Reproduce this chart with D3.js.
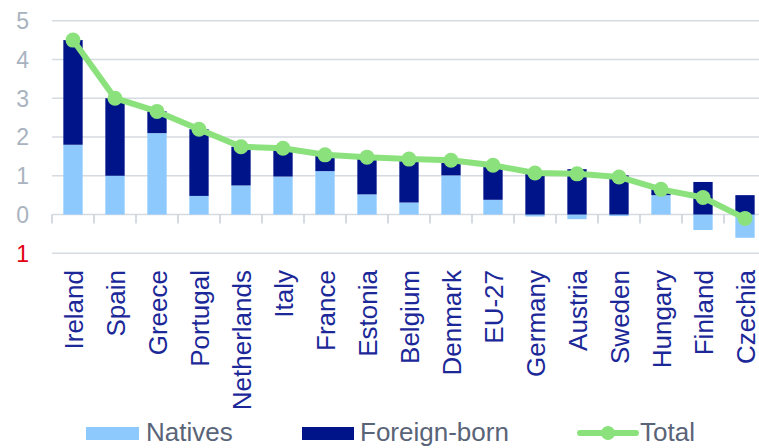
<!DOCTYPE html>
<html>
<head>
<meta charset="utf-8">
<script src="https://cdn.jsdelivr.net/npm/d3@7"></script>
<style>
  body { margin: 0; background: #fff; }
  svg { display: block; font-family: Arial, 'Liberation Sans', sans-serif; }
</style>
</head>
<body>
<script>
const countries = ['Ireland', 'Spain', 'Greece', 'Portugal', 'Netherlands', 'Italy', 'France', 'Estonia',
  'Belgium', 'Denmark', 'EU-27', 'Germany', 'Austria', 'Sweden', 'Hungary', 'Finland', 'Czechia']
const natives = [1.8, 1.0, 2.1, 0.48, 0.75, 0.98, 1.12, 0.52, 0.31, 1.01, 0.38, -0.05, -0.12, -0.04, 0.5, -0.4, -0.6]
const foreignBorn = [2.7, 2.0, 0.56, 1.72, 1.0, 0.73, 0.42, 0.96, 1.12, 0.39, 0.89, 1.12, 1.17, 1.01, 0.15, 0.84, 0.5]
const total = [4.5, 3.0, 2.66, 2.2, 1.75, 1.71, 1.54, 1.48, 1.43, 1.4, 1.27, 1.07, 1.05, 0.97, 0.65, 0.44, -0.1]
const yTicks = [-1, 0, 1, 2, 3, 4, 5]

const width = 759, height = 448

const svg = d3.select('body').append('svg')
    .attr('width', width)
    .attr('height', height)

const x = d3.scaleBand().domain(countries).range([52, 766]).paddingInner(0.54).paddingOuter(0.27)
const y = d3.scaleLinear().domain([-1, 5]).range([253.3, 20.7])

const rows = countries.map((c, i) => ({ country: c, natives: natives[i], foreign: foreignBorn[i] }))
const series = d3.stack()
    .keys(['natives', 'foreign'])
    .offset(d3.stackOffsetDiverging)(rows)
const colour = { natives: '#8dc9fc', foreign: '#00148a' }

// grid
svg.append('g')
  .selectAll('line')
  .data(yTicks)
  .enter().append('line')
    .attr('x1', 52)
    .attr('x2', width)
    .attr('y1', d => y(d))
    .attr('y2', d => y(d))
    .attr('stroke', '#d6dbe1')
    .attr('stroke-width', 1.5)

// y labels, negatives shown in red
svg.append('g')
  .selectAll('text')
  .data(yTicks)
  .enter().append('text')
    .attr('x', 29)
    .attr('y', d => y(d))
    .attr('dy', '0.36em')
    .attr('text-anchor', 'end')
    .attr('font-size', 23)
    .attr('fill', d => d < 0 ? '#e3000f' : '#a9b3c0')
    .text(d => Math.abs(d))

// bars
svg.append('g')
  .selectAll('g')
  .data(series)
  .enter().append('g')
    .attr('fill', s => colour[s.key])
  .selectAll('rect')
  .data(s => s)
  .enter().append('rect')
    .attr('x', d => x(d.data.country))
    .attr('width', x.bandwidth())
    .attr('y', d => y(Math.max(d[0], d[1])))
    .attr('height', d => Math.abs(y(d[0]) - y(d[1])))

// x axis ticks at band edges
const step = x.step()
svg.append('g')
  .selectAll('line')
  .data(d3.range(countries.length + 1))
  .enter().append('line')
    .attr('x1', i => 52 + i * step)
    .attr('x2', i => 52 + i * step)
    .attr('y1', y(0))
    .attr('y2', y(0) + 9)
    .attr('stroke', '#c9cfd7')
    .attr('stroke-width', 1.5)

// total line
const cx = c => x(c) + x.bandwidth() / 2
const line = d3.line()
    .x((d, i) => cx(countries[i]))
    .y(d => y(d))

svg.append('path')
    .datum(total)
    .attr('d', line)
    .attr('fill', 'none')
    .attr('stroke', '#8be27d')
    .attr('stroke-width', 6)
    .attr('stroke-linejoin', 'round')

svg.append('g')
  .selectAll('circle')
  .data(total)
  .enter().append('circle')
    .attr('cx', (d, i) => cx(countries[i]))
    .attr('cy', d => y(d))
    .attr('r', 7.5)
    .attr('fill', '#8be27d')

// category labels
svg.append('g')
  .selectAll('text')
  .data(countries)
  .enter().append('text')
    .attr('transform', d => 'translate(' + (cx(d) + 9.5) + ',270) rotate(-90)')
    .attr('text-anchor', 'end')
    .attr('font-size', 26)
    .attr('fill', '#1c2898')
    .text(d => d)

// legend
const legend = svg.append('g').attr('font-size', 26).attr('fill', '#5a6478')
legend.append('rect').attr('x', 86).attr('y', 427).attr('width', 53).attr('height', 13).attr('fill', colour.natives)
legend.append('text').attr('x', 146).attr('y', 441).text('Natives')
legend.append('rect').attr('x', 302).attr('y', 427).attr('width', 52).attr('height', 13).attr('fill', colour.foreign)
legend.append('text').attr('x', 360).attr('y', 441).text('Foreign-born')
legend.append('line').attr('x1', 580).attr('x2', 636).attr('y1', 433).attr('y2', 433)
    .attr('stroke', '#8be27d').attr('stroke-width', 6).attr('stroke-linecap', 'round')
legend.append('circle').attr('cx', 608).attr('cy', 433).attr('r', 7).attr('fill', '#8be27d')
legend.append('text').attr('x', 640).attr('y', 441).text('Total')
</script>
</body>
</html>
